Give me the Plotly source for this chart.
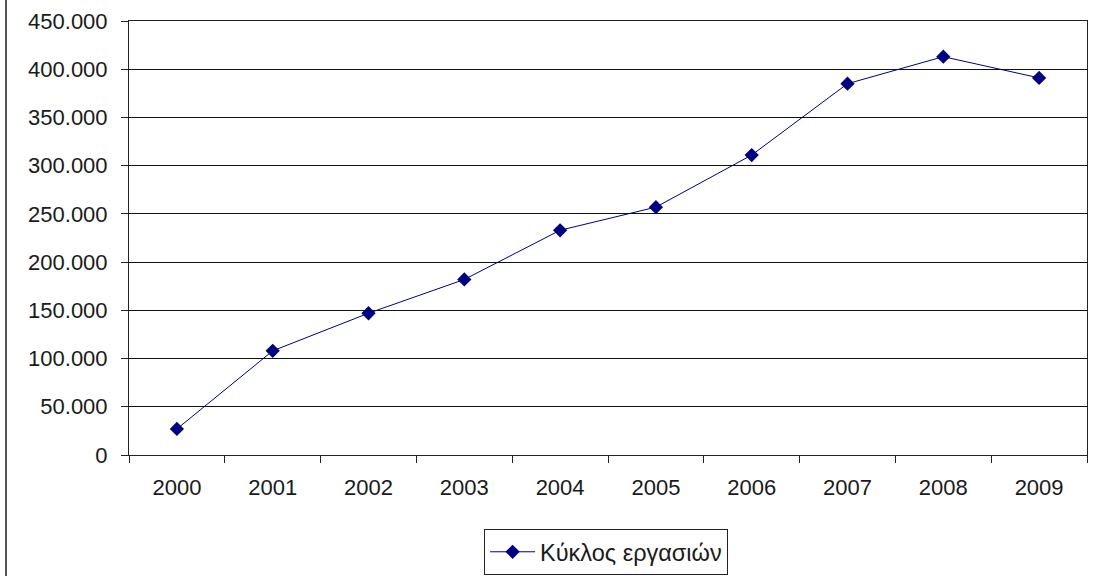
import plotly.graph_objects as go

years = ["2000", "2001", "2002", "2003", "2004", "2005", "2006", "2007", "2008", "2009"]
turnover = [27000, 108000, 147000, 182000, 233000, 257000, 311000, 385000, 413000, 391000]
series_name = "Κύκλος εργασιών"

navy = "#000080"
font = dict(family="Liberation Sans, Arial, sans-serif", size=22, color="#1a1a1a")

fig = go.Figure(go.Scatter(
    x=years,
    y=turnover,
    mode="lines+markers",
    name=series_name,
    line=dict(color=navy, width=1),
    marker=dict(symbol="diamond", size=11, color=navy),
))

# plot area in pixels: left 129, right 1087, top 21, bottom 455
L, R, T, B = 129, 12, 21, 121
W, H = 1099, 576
pw, ph = W - L - R, H - T - B

fig.update_layout(
    width=W, height=H,
    margin=dict(l=L, r=R, t=T, b=B, pad=0, autoexpand=False),
    paper_bgcolor="white",
    plot_bgcolor="white",
    font=font,
    separators=",.",
    showlegend=True,
    legend=dict(
        x=0.498, y=(455 - 529) / ph, xanchor="center", yanchor="top",
        bordercolor="#222", borderwidth=1,
        font=dict(font, size=23.5),
        itemwidth=45,
    ),
    xaxis=dict(
        type="category",
        range=[-0.5, len(years) - 0.5],
        tickson="boundaries",
        ticks="outside", ticklen=7, tickcolor="#222",
        showline=True, linecolor="#222", linewidth=1, mirror=True,
        showgrid=False,
        automargin=False,
        ticklabelstandoff=13,
    ),
    yaxis=dict(
        range=[0, 450000],
        dtick=50000,
        tickformat=",d",
        ticks="outside", ticklen=7, tickcolor="#222",
        showline=True, linecolor="#222", linewidth=1, mirror=True,
        showgrid=True, gridcolor="#111", gridwidth=1,
        zeroline=False,
        automargin=False,
        ticklabelstandoff=9,
    ),
    shapes=[dict(
        type="line", xref="paper", yref="paper",
        x0=(6 - L) / pw, x1=(6 - L) / pw,
        y0=(455 - 580) / ph, y1=(455 + 5) / ph,
        line=dict(color="#555", width=2),
    )],
)

fig.write_html(
    "out.html",
    config={"displayModeBar": False},
    post_script="document.body.style.margin='0';",
)
